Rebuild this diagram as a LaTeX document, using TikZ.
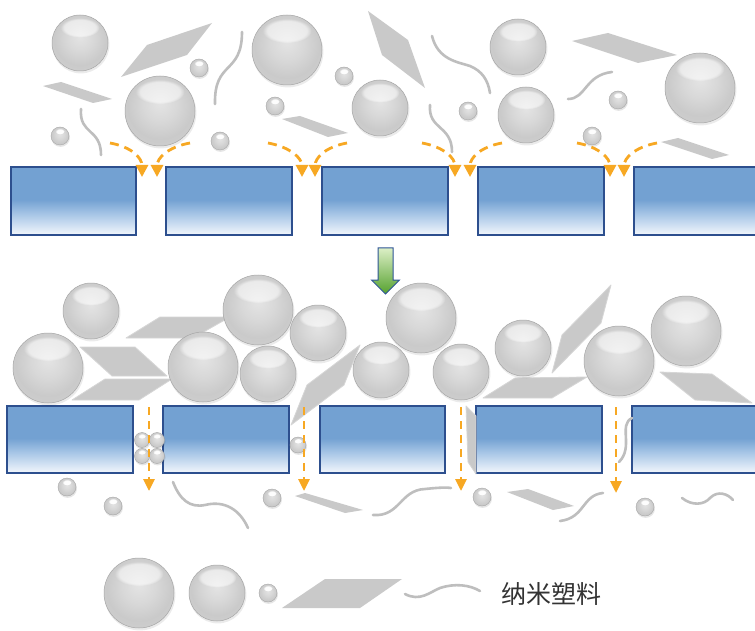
\documentclass[tikz,border=0pt]{standalone}
\usepackage{fontspec}
\newfontfamily\cjkfont{Noto Sans CJK SC}
\usetikzlibrary{arrows.meta,fadings}

\definecolor{slabTop}{HTML}{73A1D2}
\definecolor{slabMid}{HTML}{A9C7E7}
\definecolor{slabBot}{HTML}{F3F7FC}
\definecolor{slabLine}{HTML}{2D4F8E}
\definecolor{orbA}{HTML}{E4E4E4}
\definecolor{orbB}{HTML}{D8D8D8}
\definecolor{orbC}{HTML}{CACACA}
\definecolor{orbD}{HTML}{CDCDCD}
\definecolor{orbE}{HTML}{E4E4E4}
\definecolor{orbLine}{HTML}{A6A6A6}
\definecolor{flakeGray}{HTML}{C9C9C9}
\definecolor{flakeEdge}{HTML}{D6D6D6}
\definecolor{strandGray}{HTML}{BEBEBE}
\definecolor{flowOrange}{HTML}{F7A823}
\definecolor{pushTop}{HTML}{DCEFC6}
\definecolor{pushBot}{HTML}{55A12E}
\definecolor{pushLine}{HTML}{2F5597}
\definecolor{legendInk}{HTML}{333333}

% membrane slab: solid blue on top, fading to white at the bottom
\pgfdeclareverticalshading{slabfill}{100bp}{color(0bp)=(slabBot); color(25bp)=(slabBot); color(40bp)=(slabMid); color(51bp)=(slabTop); color(100bp)=(slabTop)}
% glossy grey particle
\pgfdeclareradialshading{orbfill}{\pgfqpoint{0bp}{6bp}}{color(0bp)=(orbA); color(12bp)=(orbB); color(23bp)=(orbC); color(28bp)=(orbD); color(31bp)=(orbE); color(50bp)=(orbE)}

\tikzset{
  slab/.style={shading=slabfill, draw=slabLine, line width=1.2pt},
  flake/.style={fill=flakeGray},
  bevelflake/.style={fill=flakeGray, draw=flakeEdge, line width=0.8pt, line join=round},
  strand/.style={draw=strandGray, line width=2.6pt, line cap=round},
  flow/.style={draw=flowOrange, line width=2.8pt, dash pattern=on 9pt off 6pt,
    -{Triangle[length=12pt,width=12pt]}},
  sinkflow/.style={draw=flowOrange, line width=2.8pt, dash pattern=on 8pt off 6pt,
    -{Triangle[length=12pt,width=11pt]}},
  gloss/.style={fill=white, path fading=circle with fuzzy edge 20 percent},
}

% \orbat{x}{y}{radius}: large particle
\newcommand\orbat[3]{%
  \fill[black,opacity=0.08] (#1+0.8,#2+1.8) circle[radius=#3+0.6];
  \shade[shading=orbfill,draw=orbLine,line width=0.5pt] (#1,#2) circle[radius=#3];
  \fill[gloss,opacity=0.55] (#1,#2-0.55*#3) ellipse[x radius=0.7*#3,y radius=0.35*#3];
}
% \beadat{x}{y}{radius}: small particle with a bright spot
\newcommand\beadat[3]{%
  \fill[black,opacity=0.10] (#1+0.6,#2+1.5) circle[radius=#3+0.4];
  \shade[shading=orbfill,draw=orbLine,line width=0.4pt] (#1,#2) circle[radius=#3];
  \fill[gloss,opacity=0.95] (#1,#2-0.5*#3) ellipse[x radius=0.5*#3,y radius=0.32*#3];
}

\begin{document}
\begin{tikzpicture}[x=1pt,y=-1pt]
\clip (0,0) rectangle (755,631);
\fill[white] (0,0) rectangle (755,631);

% ---------- upper stage: particles approaching the membrane ----------
\fill[flake] (43,86) -- (61,82) -- (112,99) -- (93,103) -- cycle;
\fill[flake] (121,77) -- (147,45) -- (212,23) -- (187,55) -- cycle;
\fill[flake] (282,119) -- (300,116) -- (348,133) -- (328,137) -- cycle;
\fill[flake] (368,11) -- (408,40) -- (425,88) -- (382,55) -- cycle;
\fill[flake] (572,41) -- (608,33) -- (677,55) -- (638,63) -- cycle;
\fill[flake] (661,142) -- (678,138) -- (729,155) -- (712,159) -- cycle;

\draw[strand] (81,109) .. controls (79,135) and (101,128) .. (101,155);
\draw[strand] (242,32) .. controls (242,75) and (214,60) .. (215,104);
\draw[strand] (432,36) .. controls (438,60) and (458,62) .. (470,66) .. controls (482,71) and (488,80) .. (490,93);
\draw[strand] (430,105) .. controls (428,130) and (452,125) .. (452,152);
\draw[strand] (568,99) .. controls (586,99) and (585,75) .. (612,72);

\orbat{80}{43}{28}
\orbat{160}{111}{35}
\orbat{287}{50}{35}
\orbat{380}{108}{28}
\orbat{518}{47}{28}
\orbat{526}{115}{28}
\orbat{700}{88}{35}

\beadat{199}{68}{9}
\beadat{60}{136}{9}
\beadat{220}{141}{9}
\beadat{275}{106}{9}
\beadat{344}{76}{9}
\beadat{468}{111}{9}
\beadat{618}{100}{9}
\beadat{592}{136}{9}

\shade[slab] (11,167) rectangle (136,235);
\shade[slab] (166,167) rectangle (292,235);
\shade[slab] (322,167) rectangle (448,235);
\shade[slab] (478,167) rectangle (604,235);
\shade[slab] (634,167) rectangle (770,235);

\draw[flow] (110,143) .. controls (132,147) and (142,158) .. (142,177);
\draw[flow] (190,143) .. controls (168,147) and (157,158) .. (157,177);
\draw[flow] (268,143) .. controls (290,147) and (302,158) .. (302,177);
\draw[flow] (347,143) .. controls (325,147) and (315,158) .. (315,177);
\draw[flow] (422,143) .. controls (444,147) and (455,158) .. (455,177);
\draw[flow] (502,143) .. controls (480,147) and (470,158) .. (470,177);
\draw[flow] (577,143) .. controls (599,147) and (610,158) .. (610,177);
\draw[flow] (657,143) .. controls (635,147) and (624,158) .. (624,177);

% ---------- transition arrow ----------
\shade[top color=pushTop, bottom color=pushBot, draw=pushLine, line width=1pt, line join=miter]
  (378,248) -- (393,248) -- (393,280) -- (399.5,280) -- (385.5,294) -- (371.5,280) -- (378,280) -- cycle;

% ---------- lower stage: cake layer on the membrane ----------
\shade[slab] (7,406) rectangle (133,473);
\shade[slab] (163,406) rectangle (289,473);
\shade[slab] (320,406) rectangle (445,473);
\shade[slab] (476,406) rectangle (602,473);
\shade[slab] (632,406) rectangle (770,473);

\fill[bevelflake] (126,338) -- (160,317) -- (230,317) -- (193,338) -- cycle;
\fill[bevelflake] (80,347) -- (135,347) -- (167,376) -- (112,376) -- cycle;
\fill[bevelflake] (72,400) -- (105,379) -- (172,379) -- (139,400) -- cycle;
\fill[bevelflake] (291,425) -- (307,385) -- (360,345) -- (344,385) -- cycle;
\fill[bevelflake] (552,373) -- (562,335) -- (611,285) -- (601,323) -- cycle;
\fill[bevelflake] (483,398) -- (515,378) -- (587,377) -- (552,398) -- cycle;
\fill[bevelflake] (660,372) -- (712,374) -- (752,403) -- (695,400) -- cycle;
\fill[bevelflake] (466,406) -- (476,416) -- (476,474) -- (468,462) -- cycle;

\orbat{48}{368}{35}
\orbat{91}{311}{28}
\orbat{203}{367}{35}
\orbat{258}{310}{35}
\orbat{268}{374}{28}
\orbat{318}{333}{28}
\orbat{381}{370}{28}
\orbat{421}{318}{35}
\orbat{461}{372}{28}
\orbat{523}{348}{28}
\orbat{619}{361}{35}
\orbat{686}{331}{35}

% particles lodged in the pores
\beadat{142}{440}{7.5}
\beadat{157}{440}{7.5}
\beadat{142}{456}{7.5}
\beadat{157}{456}{7.5}
\beadat{298}{445}{8}
\draw[strand] (632,418) .. controls (618,425) and (634,447) .. (619,462);

% permeate side
\beadat{67}{487}{9}
\beadat{113}{506}{9}
\beadat{272}{498}{9}
\beadat{482}{497}{9}
\beadat{645}{507}{9}
\fill[flake] (295,496) -- (305,493) -- (363,510) -- (345,513) -- cycle;
\fill[flake] (507,492) -- (528,489) -- (574,506) -- (553,510) -- cycle;
\draw[strand] (173,482) .. controls (180,500) and (190,508) .. (205,505) .. controls (225,500) and (240,510) .. (248,528);
\draw[strand] (373,515) .. controls (400,517) and (400,490) .. (425,489) .. controls (435,488) and (445,487) .. (451,488);
\draw[strand] (560,521) .. controls (585,518) and (582,495) .. (603,493);
\draw[strand] (682,498) .. controls (692,506) and (704,505) .. (710,498) .. controls (718,490) and (728,494) .. (733,500);

\draw[sinkflow] (149,407) -- (149,491);
\draw[sinkflow] (304,407) -- (304,491);
\draw[sinkflow] (461,407) -- (461,491);
\draw[sinkflow] (616,407) -- (616,493);

% ---------- legend ----------
\orbat{139}{593}{35}
\orbat{217}{593}{28}
\beadat{268}{593}{9}
\fill[flake] (282,608) -- (325,579) -- (402,579) -- (360,608) -- cycle;
\draw[strand] (405,594) .. controls (420,602) and (430,592) .. (440,588) .. controls (455,583) and (470,585) .. (480,591);
\node[font=\cjkfont\fontsize{25}{30}\selectfont, text=legendInk, inner sep=0pt] (plasticlabel) at (551,594) {纳米塑料};
\end{tikzpicture}
\end{document}
